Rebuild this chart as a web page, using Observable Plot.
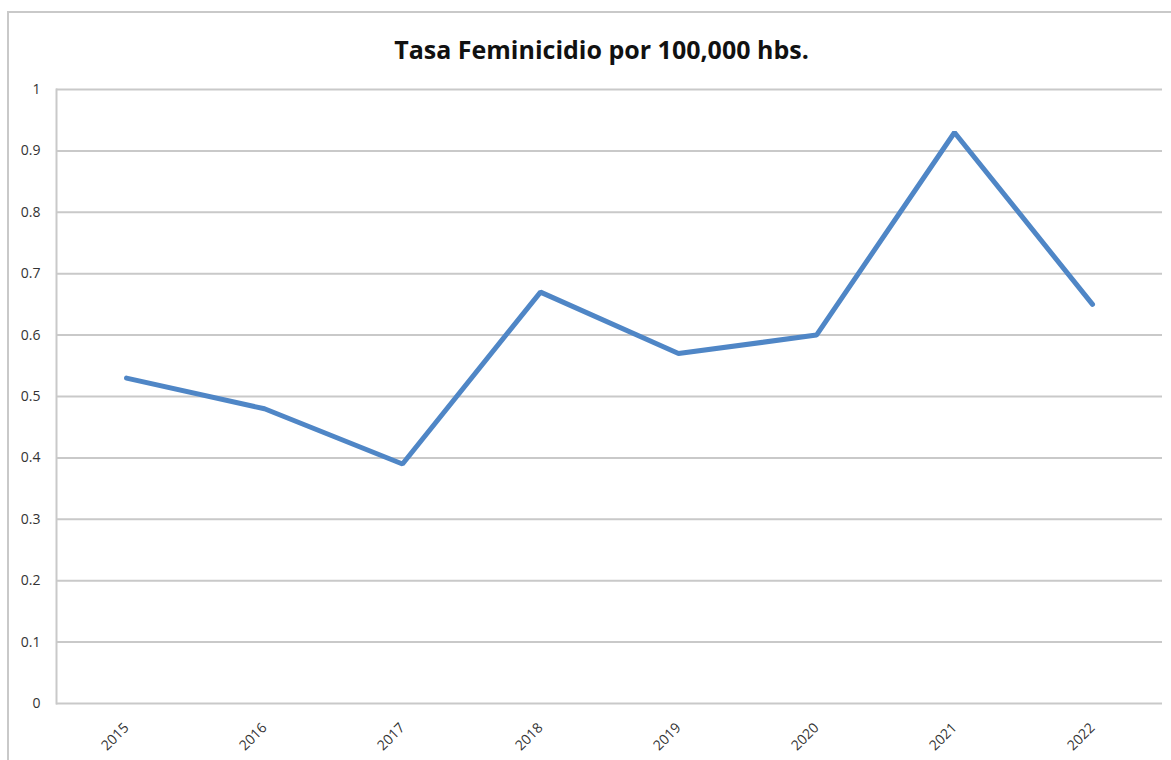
<!DOCTYPE html>
<html>
<head>
<meta charset="utf-8">
<script src="https://cdn.jsdelivr.net/npm/d3@7"></script>
<script src="https://cdn.jsdelivr.net/npm/@observablehq/plot@0.6"></script>
<style>
  html, body { margin: 0; padding: 0; background: #fff; }
  #wrap { position: relative; width: 1171px; height: 760px; overflow: hidden; font-family: "Open Sans", "Liberation Sans", sans-serif; }
  #frame { position: absolute; left: 7px; top: 11px; width: 1170px; height: 760px; border-left: 2px solid #c9c9c9; border-top: 2px solid #c9c9c9; }
  #title { position: absolute; left: 16px; width: 1171px; top: 32px; text-align: center; font-size: 25px; line-height: 34px; font-weight: bold; color: #111; }
  #chart { position: absolute; left: 0; top: 0; }
  #chart svg text { font-size: 14px !important; }
</style>
</head>
<body>
<div id="wrap">
  <div id="frame"></div>
  <div id="title">Tasa Feminicidio por 100,000 hbs.</div>
  <div id="chart"></div>
</div>
<script>
const years = ["2015", "2016", "2017", "2018", "2019", "2020", "2021", "2022"];
const rates = [0.53, 0.48, 0.39, 0.67, 0.57, 0.60, 0.93, 0.65];
const yTicks = [0, 0.1, 0.2, 0.3, 0.4, 0.5, 0.6, 0.7, 0.8, 0.9, 1];

const data = years.map((y, i) => ({year: y, value: rates[i]}));

const chart = Plot.plot({
  width: 1171,
  height: 760,
  marginLeft: 56,
  marginRight: 9,
  marginTop: 89,
  marginBottom: 57,
  style: {background: "transparent", fontFamily: "Open Sans, Liberation Sans, sans-serif", color: "#333"},
  x: {type: "point", domain: years, padding: 0.5, label: null},
  y: {domain: [0, 1], label: null},
  marks: [
    Plot.gridY(yTicks, {stroke: "#c9c9c9", strokeOpacity: 1, strokeWidth: 2}),
    Plot.frame({anchor: "left", stroke: "#c9c9c9", strokeWidth: 2}),
    Plot.axisY(yTicks, {tickSize: 0, tickPadding: 16, tickFormat: d3.format("~g"), label: null, fill: "#333"}),
    Plot.axisX({tickSize: 0, tickPadding: 22, tickRotate: -45, label: null, fill: "#333"}),
    Plot.line(data, {x: "year", y: "value", stroke: "#4f86c6", strokeWidth: 5, strokeLinejoin: "miter"})
  ]
});
document.getElementById("chart").appendChild(chart);
</script>
</body>
</html>
